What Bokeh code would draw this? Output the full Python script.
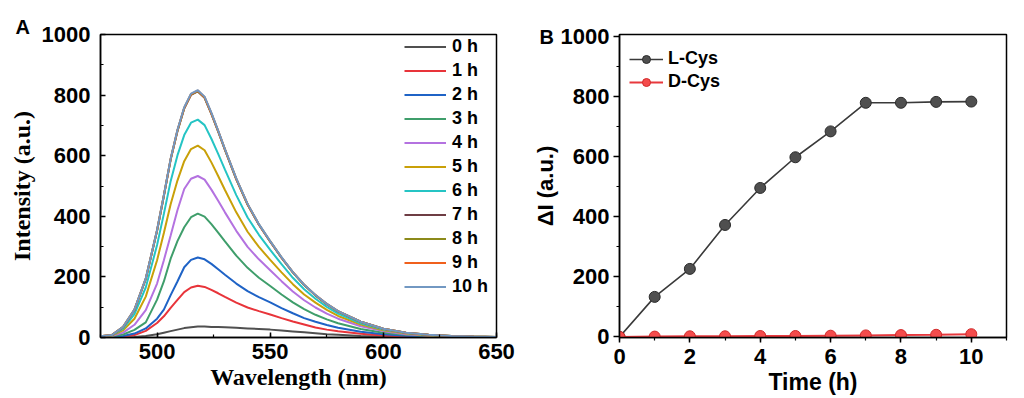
from bokeh.plotting import figure
from bokeh.models import Range1d, Legend, LegendItem, Title, SingleIntervalTicker
from bokeh.layouts import row
from bokeh.embed import file_html
from bokeh.resources import INLINE

# ---------------- data ----------------
wavelength = [475, 480, 485, 490, 495, 500, 503, 506, 509, 512, 515, 518, 521, 524, 527, 530,
              535, 540, 545, 550, 555, 560, 565, 570, 575, 580, 590, 600, 610, 620, 630, 640, 650]

spec_0h = [0, 0, 1, 2, 5, 11, 16, 21, 26, 31, 34, 36, 36, 35, 35, 34,
           32, 30, 28, 26, 23, 20, 17, 14, 11, 9, 5, 3, 2, 1, 1, 0, 0]
spec_1h = [0, 1, 3, 8, 22, 48, 70, 98, 124, 150, 165, 171, 167, 157, 146, 134,
           115, 99, 87, 76, 64, 53, 43, 33, 26, 21, 12, 7, 4, 2, 1, 1, 0]
spec_2h = [1, 2, 5, 13, 30, 62, 92, 140, 185, 232, 256, 264, 258, 243, 225, 207,
           178, 153, 133, 116, 97, 80, 64, 52, 41, 32, 19, 11, 6, 3, 2, 1, 1]
spec_3h = [2, 4, 10, 25, 50, 125, 185, 260, 318, 364, 397, 409, 399, 374, 346, 317,
           270, 230, 197, 170, 142, 116, 94, 75, 60, 47, 28, 16, 9, 5, 3, 2, 1]
spec_4h = [2, 5, 16, 42, 90, 178, 255, 337, 420, 490, 524, 533, 521, 488, 451, 413,
           352, 299, 258, 222, 186, 152, 123, 99, 79, 62, 37, 21, 11, 6, 4, 2, 1]
spec_5h = [3, 6, 24, 62, 135, 255, 345, 440, 518, 582, 622, 633, 618, 578, 533, 487,
           413, 349, 299, 256, 215, 176, 142, 115, 91, 71, 43, 24, 13, 7, 4, 2, 1]
spec_6h = [3, 7, 29, 77, 165, 305, 408, 516, 601, 668, 709, 719, 701, 656, 606, 554,
           470, 396, 339, 289, 242, 197, 159, 128, 101, 79, 47, 26, 15, 8, 5, 3, 2]
spec_7h = [4, 8, 34, 91, 193, 352, 467, 587, 681, 756, 801, 812, 791, 738, 680, 619,
           522, 439, 372, 316, 263, 215, 173, 139, 110, 86, 52, 29, 16, 9, 5, 3, 2]
spec_8h = [4, 8, 35, 91, 194, 353, 468, 588, 682, 757, 802, 813, 792, 739, 680, 620,
           523, 439, 373, 317, 264, 215, 173, 139, 110, 86, 52, 29, 16, 9, 5, 3, 2]
spec_9h = [4, 8, 35, 92, 194, 354, 469, 589, 684, 758, 803, 815, 793, 740, 682, 621,
           524, 440, 373, 317, 264, 216, 174, 140, 111, 87, 52, 29, 16, 9, 5, 3, 2]
spec_10h = [4, 8, 35, 92, 195, 355, 470, 590, 685, 760, 805, 816, 795, 742, 683, 622,
            525, 441, 374, 318, 265, 216, 174, 140, 111, 87, 52, 29, 16, 9, 5, 3, 2]

spectra = [spec_0h, spec_1h, spec_2h, spec_3h, spec_4h, spec_5h,
           spec_6h, spec_7h, spec_8h, spec_9h, spec_10h]
spectra_labels = ["0 h", "1 h", "2 h", "3 h", "4 h", "5 h",
                  "6 h", "7 h", "8 h", "9 h", "10 h"]
spectra_colors = ["#505050", "#e8343a", "#1f63c6", "#3f9e6b", "#b472e0", "#c9a008",
                  "#25c4c4", "#6e3d44", "#8c8a1a", "#f0601c", "#7298c2"]

hours = [0, 1, 2, 3, 4, 5, 6, 7, 8, 9, 10]
l_cys = [0, 133, 226, 372, 495, 597, 683, 778, 778, 781, 782]
d_cys = [0, 1, 2, 2, 3, 3, 4, 5, 6, 7, 9]

SANS = "Liberation Sans"
SERIF = "Liberation Serif"


def style_axis(ax, inward, label_font, label_size):
    ax.axis_line_color = "black"
    ax.axis_line_width = 1.5
    ax.major_tick_line_color = "black"
    ax.minor_tick_line_color = "black"
    ax.major_tick_line_width = 1.5
    ax.minor_tick_line_width = 1.2
    if inward:
        ax.major_tick_in, ax.major_tick_out = 5, 0
        ax.minor_tick_in, ax.minor_tick_out = 3, 0
    else:
        ax.major_tick_in, ax.major_tick_out = 0, 5
        ax.minor_tick_in, ax.minor_tick_out = 0, 3
    ax.major_label_text_font = SANS
    ax.major_label_text_font_style = "bold"
    ax.major_label_text_font_size = "22px"
    ax.major_label_text_color = "black"
    ax.axis_label_text_font = label_font
    ax.axis_label_text_font_style = "bold"
    ax.axis_label_text_font_size = label_size
    ax.axis_label_text_color = "black"


def panel_letter(text, offset, standoff):
    return Title(text=text, align="left", offset=offset, standoff=standoff,
                 text_font=SANS, text_font_style="bold", text_font_size="20px",
                 text_color="black")


# ---------------- panel A ----------------
p1 = figure(width=520, height=398, output_backend="svg", toolbar_location=None,
            x_range=Range1d(475, 650), y_range=Range1d(0, 1000),
            min_border_left=100, min_border_right=24, min_border_top=34, min_border_bottom=61)
p1.grid.visible = False
p1.outline_line_color = "black"
p1.outline_line_width = 1.5
p1.background_fill_color = "white"
p1.border_fill_color = "white"

style_axis(p1.xaxis[0], True, SERIF, "24px")
style_axis(p1.yaxis[0], True, SERIF, "24px")
p1.xaxis.ticker = SingleIntervalTicker(interval=50, num_minor_ticks=2)
p1.yaxis.ticker = SingleIntervalTicker(interval=200, num_minor_ticks=2)
p1.xaxis.axis_label = "Wavelength (nm)"
p1.yaxis.axis_label = "Intensity (a.u.)"
p1.xaxis.major_label_standoff = 6
p1.xaxis.axis_label_standoff = 2
p1.yaxis.major_label_standoff = 10
p1.yaxis.axis_label_standoff = 4

items1 = []
for ys, lab, col in zip(spectra, spectra_labels, spectra_colors):
    r = p1.line(wavelength, ys, line_color=col, line_width=2)
    items1.append(LegendItem(label=lab, renderers=[r]))

leg1 = Legend(items=items1, location=(304, 40), border_line_color=None,
              background_fill_alpha=0, padding=0, margin=0, spacing=3,
              glyph_width=42, glyph_height=21, label_height=21, label_standoff=6,
              label_text_font=SANS, label_text_font_style="bold",
              label_text_font_size="18px", label_text_color="black")
p1.add_layout(leg1)
p1.add_layout(panel_letter("A", -85, -7), "above")

# ---------------- panel B ----------------
p2 = figure(width=504, height=398, output_backend="svg", toolbar_location=None,
            x_range=Range1d(0, 11), y_range=Range1d(-2, 1005),
            min_border_left=99, min_border_right=18, min_border_top=34, min_border_bottom=61)
p2.grid.visible = False
p2.outline_line_color = "black"
p2.outline_line_width = 1.5
p2.background_fill_color = "white"
p2.border_fill_color = "white"

style_axis(p2.xaxis[0], False, SANS, "23px")
style_axis(p2.yaxis[0], False, SANS, "22px")
p2.yaxis.major_tick_out = 6
p2.xaxis.ticker = SingleIntervalTicker(interval=2, num_minor_ticks=2)
p2.yaxis.ticker = SingleIntervalTicker(interval=200, num_minor_ticks=2)
p2.xaxis.axis_label = "Time (h)"
p2.yaxis.axis_label = "ΔI (a.u.)"
p2.yaxis.major_label_standoff = 4
p2.yaxis.axis_label_standoff = 0
p2.xaxis.major_label_standoff = 6
p2.xaxis.axis_label_standoff = 2

rl_line = p2.line(hours, l_cys, line_color="#3a3a3a", line_width=1.6)
rl_pts = p2.scatter(hours, l_cys, size=11, fill_color="#4f4f4f", line_color="#2b2b2b", line_width=1)
rd_line = p2.line(hours, d_cys, line_color="#e8383d", line_width=2)
rd_pts = p2.scatter(hours, d_cys, size=11, fill_color="#f44c4c", line_color="#d12a2a", line_width=1)

leg2 = Legend(items=[LegendItem(label="L-Cys", renderers=[rl_line, rl_pts]),
                     LegendItem(label="D-Cys", renderers=[rd_line, rd_pts])],
              location=(10, 245), border_line_color=None, background_fill_alpha=0,
              padding=0, margin=0, spacing=2, glyph_width=34, glyph_height=20,
              label_height=20, label_standoff=5, label_text_font=SANS,
              label_text_font_style="bold", label_text_font_size="18px",
              label_text_color="black")
p2.add_layout(leg2)
p2.add_layout(panel_letter("B", -80, -27), "above")

layout = row(p1, p2)
open("out.html", "w").write(file_html(layout, INLINE))
